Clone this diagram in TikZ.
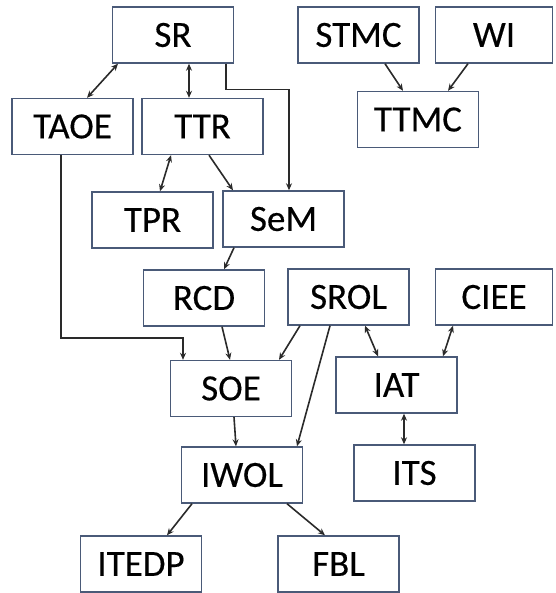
\documentclass[tikz,border=0pt]{standalone}
\usepackage{fontspec}
\setmainfont{Carlito}
\newfontfamily\boxfont[FakeBold=0.35]{Carlito}
\usetikzlibrary{arrows.meta}
\definecolor{boxline}{HTML}{4A5A78}
\definecolor{arrline}{HTML}{2A2A2A}
\tikzset{
  box/.style={draw=boxline, line width=1.4pt, fill=white, minimum width=121pt, minimum height=56pt, inner sep=0pt, font=\boxfont\fontsize{37}{42}\selectfont},
  conn/.style={draw=arrline, line width=1.6pt, -{Stealth[length=7pt,width=6pt]}},
  bconn/.style={draw=arrline, line width=1.6pt, {Stealth[length=7pt,width=6pt]}-{Stealth[length=7pt,width=6pt]}}
}
\begin{document}
\begin{tikzpicture}[x=1pt,y=-1pt]
\useasboundingbox (0,0) rectangle (555,593);
\node[box] (SR) at (173,35) {SR};
\node[box] (STMC) at (358.5,35) {STMC};
\node[box, minimum width=117pt] (WI) at (494,35) {WI};
\node[box] (TAOE) at (72.5,126.5) {TAOE};
\node[box] (TTR) at (202.5,126.5) {TTR};
\node[box] (TTMC) at (418,119.5) {TTMC};
\node[box] (TPR) at (152.5,220) {TPR};
\node[box] (SeM) at (283.5,219) {SeM};
\node[box] (RCD) at (204,298) {RCD};
\node[box] (SROL) at (348.5,297) {SROL};
\node[box, minimum width=117pt] (CIEE) at (494,297) {CIEE};
\node[box] (SOE) at (231,388.5) {SOE};
\node[box] (IAT) at (396.5,385) {IAT};
\node[box] (IWOL) at (242,475) {IWOL};
\node[box] (ITS) at (414.5,473) {ITS};
\node[box] (ITEDP) at (141,564) {ITEDP};
\node[box] (FBL) at (338.5,564) {FBL};

\draw[bconn] ([xshift=-55pt]SR.south) -- ([xshift=14.5pt]TAOE.north);
\draw[bconn] ([xshift=16pt]SR.south) -- ([xshift=-13.5pt]TTR.north);
\draw[conn] ([xshift=53pt]SR.south) -- ++(0,26) -| ([xshift=5.5pt]SeM.north);
\draw[bconn] ([xshift=-31.5pt]TTR.south) -- ([xshift=7.5pt]TPR.north);
\draw[conn] ([xshift=6.5pt]TTR.south) -- ([xshift=-50.5pt]SeM.north);
\draw[conn] ([xshift=-49.5pt]SeM.south) -- ([xshift=20pt]RCD.north);
\draw[conn] ([xshift=-11.5pt]TAOE.south) -- ++(0,182.5) -| ([xshift=-48pt]SOE.north);
\draw[conn] ([xshift=18pt]RCD.south) -- ([xshift=-1pt]SOE.north);
\draw[conn] ([xshift=-48.5pt]SROL.south) -- ([xshift=48pt]SOE.north);
\draw[conn] ([xshift=-18.5pt]SROL.south) -- ([xshift=55pt]IWOL.north);
\draw[bconn] ([xshift=16.5pt]SROL.south) -- ([xshift=-18.5pt]IAT.north);
\draw[bconn] ([xshift=-41pt]CIEE.south) -- ([xshift=46.5pt]IAT.north);
\draw[bconn] ([xshift=7.5pt]IAT.south) -- ([xshift=-10.5pt]ITS.north);
\draw[conn] ([xshift=3pt]SOE.south) -- ([xshift=-6pt]IWOL.north);
\draw[conn] ([xshift=-50pt]IWOL.south) -- ([xshift=26pt]ITEDP.north);
\draw[conn] ([xshift=45pt]IWOL.south) -- ([xshift=-13.5pt]FBL.north);
\draw[conn] ([xshift=26.5pt]STMC.south) -- ([xshift=-15pt]TTMC.north);
\draw[conn] ([xshift=-26pt]WI.south) -- ([xshift=30pt]TTMC.north);
\end{tikzpicture}
\end{document}
